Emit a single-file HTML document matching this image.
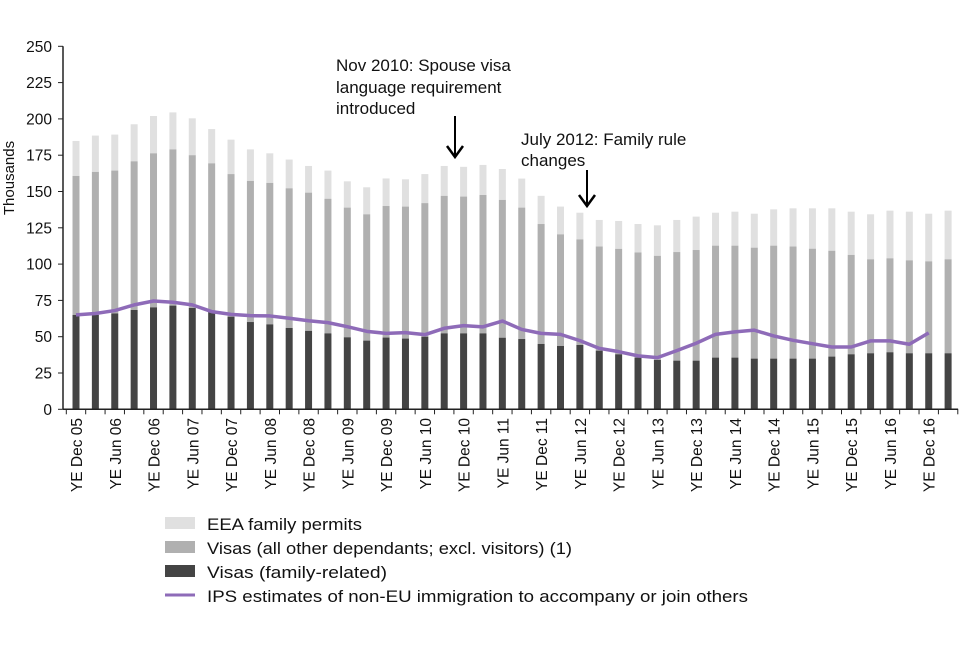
<!DOCTYPE html>
<html><head><meta charset="utf-8"><style>
body{margin:0;background:#fff;}
svg text{font-family:"Liberation Sans",Arial,sans-serif;fill:#111;}
</style></head><body>
<svg id="chart" width="960" height="640" viewBox="0 0 960 640" xmlns="http://www.w3.org/2000/svg">
<g id="bars"></g>
<g id="line"></g>
<g id="axes"></g>
<text transform="translate(14,178) rotate(-90)" text-anchor="middle" font-size="15">Thousands</text>
<g>
<text x="336" y="71" font-size="17">Nov 2010: Spouse visa</text>
<text x="336" y="93" font-size="17">language requirement</text>
<text x="336" y="114" font-size="17">introduced</text>
<line x1="455" y1="116" x2="455" y2="156" stroke="#000" stroke-width="2"/>
<polyline points="447,146 455,157 463,146" fill="none" stroke="#000" stroke-width="2.5"/>
</g>
<g>
<text x="521" y="145" font-size="17">July 2012: Family rule</text>
<text x="521" y="166" font-size="17">changes</text>
<line x1="587" y1="170" x2="587" y2="205" stroke="#000" stroke-width="2"/>
<polyline points="579,195 587,206 595,195" fill="none" stroke="#000" stroke-width="2.5"/>
</g>
<g>
<g><rect x="165" y="517" width="30" height="12" fill="#e0e0e0"/><text x="207" y="530" font-size="17" textLength="155" lengthAdjust="spacingAndGlyphs">EEA family permits</text></g>
<g><rect x="165" y="541" width="30" height="12" fill="#b0b0b0"/><text x="207" y="554" font-size="17" textLength="365" lengthAdjust="spacingAndGlyphs">Visas (all other dependants; excl. visitors) (1)</text></g>
<g><rect x="165" y="565" width="30" height="12" fill="#444"/><text x="207" y="578" font-size="17" textLength="180" lengthAdjust="spacingAndGlyphs">Visas (family-related)</text></g>
<g><line x1="165" y1="595" x2="195" y2="595" stroke="#8e6bb8" stroke-width="3"/><text x="207" y="602" font-size="17" textLength="541" lengthAdjust="spacingAndGlyphs">IPS estimates of non-EU immigration to accompany or join others</text></g>
</g>
</svg>
<script>
const totals=[184.8,188.5,189.2,196.3,202,204.5,200.4,193,185.7,179,176.3,172,167.6,164.4,157,152.9,159,158.4,162,167.6,167,168.3,165.5,158.9,147,139.6,135.4,130.4,129.7,127.6,126.7,130.4,132.7,135.4,136.1,134.7,137.7,138.4,138.4,138.4,136.1,134.3,136.8,136.1,134.7,136.8];
const otherTops=[160.7,163.5,164.4,170.8,176.3,179,175,169.4,162,157.3,155.9,152.2,149.2,145,138.9,134.3,140,139.6,142,147,146.5,147.6,144.2,138.9,127.6,120.5,117,112.1,110.5,108,105.7,108.3,109.7,112.7,112.7,111.3,112.7,112.1,110.6,109.2,106.3,103.3,104,102.6,101.9,103.3];
const familyVisas=[65,65,66,68.4,70.2,71.4,69.8,67,63.8,60.1,58.5,56,54,52.3,49.6,47.3,49.4,48.7,50,52.3,52.3,52.3,49.3,48.4,45,43.6,44.3,40.4,37.9,35.6,34,33.5,33.5,35.6,35.6,34.9,34.9,34.9,34.9,36.3,37.9,38.6,39.3,38.6,38.6,38.6];
const ipsLine=[65,66,68,71.9,74.6,73.7,71.9,67.3,65.4,64.5,64.3,62.7,61,59.7,56.9,53.7,52.3,52.8,51.4,55.8,57.6,56.8,60.8,55,52.3,51.6,47.3,42,39.7,36.8,35.6,40.4,45.5,51.6,53.3,54.5,50.5,47.5,45.2,42.9,42.9,47.1,47.1,44.8,52.6];
const xLabels=["YE Dec 05","YE Jun 06","YE Dec 06","YE Jun 07","YE Dec 07","YE Jun 08","YE Dec 08","YE Jun 09","YE Dec 09","YE Jun 10","YE Dec 10","YE Jun 11","YE Dec 11","YE Jun 12","YE Dec 12","YE Jun 13","YE Dec 13","YE Jun 14","YE Dec 14","YE Jun 15","YE Dec 15","YE Jun 16","YE Dec 16"];
const yTicks=[0,25,50,75,100,125,150,175,200,225,250];
const NS="http://www.w3.org/2000/svg";
const y0=409.3,k=1.452,x0=76,step=19.38,bw=7;
const ys=v=>y0-v*k;
const xs=i=>x0+i*step;
function mk(t,a,p){const e=document.createElementNS(NS,t);for(const n in a)e.setAttribute(n,a[n]);p.appendChild(e);return e;}
const gb=document.getElementById('bars');
totals.forEach((t,i)=>{
 const x=xs(i)-bw/2;
 const r1=mk('rect',{x:x,y:ys(t),width:bw,height:ys(otherTops[i])-ys(t),fill:'#e0e0e0'},gb);
 
 
 const r2=mk('rect',{x:x,y:ys(otherTops[i]),width:bw,height:ys(familyVisas[i])-ys(otherTops[i]),fill:'#b0b0b0'},gb);
 
 
 const r3=mk('rect',{x:x,y:ys(familyVisas[i]),width:bw,height:y0-ys(familyVisas[i]),fill:'#444'},gb);
 
 
});
const gl=document.getElementById('line');
const pl=mk('polyline',{points:ipsLine.map((v,i)=>xs(i)+','+ys(v)).join(' '),fill:'none',stroke:'#8e6bb8','stroke-width':3.5,'stroke-linejoin':'round'},gl);


const ga=document.getElementById('axes');
mk('line',{x1:63,y1:ys(250),x2:63,y2:y0,stroke:'#222','stroke-width':1.5},ga);
mk('line',{x1:63,y1:y0,x2:xs(totals.length-1)+10,y2:y0,stroke:'#222','stroke-width':1.5},ga);
yTicks.forEach(v=>{
 mk('line',{x1:58,y1:ys(v),x2:63,y2:ys(v),stroke:'#222'},ga);
 const t=mk('text',{x:52,y:ys(v)+5.5,'text-anchor':'end','font-size':15.5},ga);
 t.textContent=v;
 
 
});
for(let i=0;i<=totals.length;i++){const x=xs(i)-step/2;mk('line',{x1:x,y1:y0,x2:x,y2:y0+5,stroke:'#222'},ga);}
xLabels.forEach((l,j)=>{
 const x=xs(j*2)+6;
 const t=mk('text',{transform:'translate('+x+',418) rotate(-90)','text-anchor':'end','font-size':15.5},ga);
 t.textContent=l;
 
 
});
</script>
</body></html>
